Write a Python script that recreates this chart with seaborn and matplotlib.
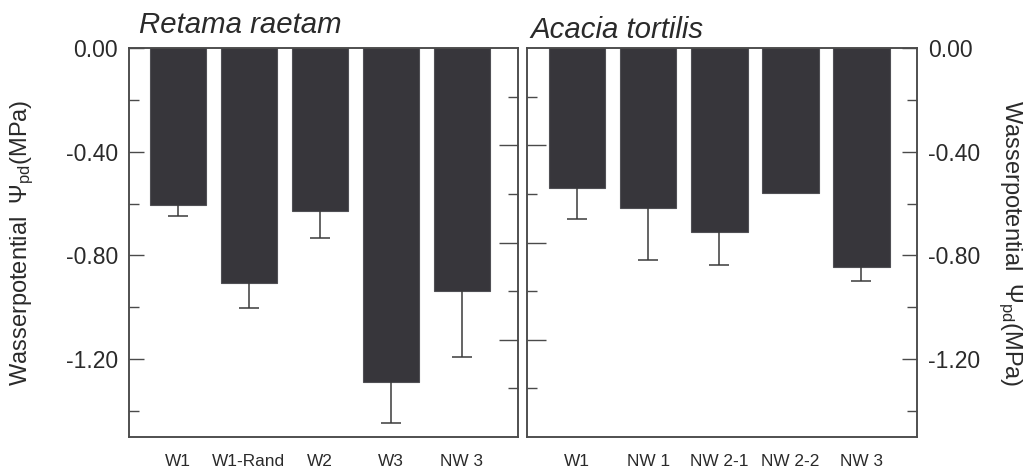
import numpy as np
import pandas as pd
import matplotlib
matplotlib.use("Agg")
import matplotlib.pyplot as plt
from matplotlib.ticker import FixedLocator, NullFormatter
import seaborn as sns

# ---- data ----
retama_cats = ["W1", "W1-Rand", "W2", "W3", "NW 3"]
retama_vals = [-0.604, -0.906, -0.629, -1.286, -0.937]
retama_err = [0.045, 0.097, 0.105, 0.161, 0.254]

acacia_cats = ["W1", "NW 1", "NW 2-1", "NW 2-2", "NW 3"]
acacia_vals = [-0.541, -0.618, -0.710, -0.560, -0.844]
acacia_err = [0.117, 0.199, 0.127, 0.0, 0.055]

titles = ["Retama raetam", "Acacia tortilis"]
ylabel = r"Wasserpotential  $\Psi_{\mathrm{pd}}$(MPa)"
major_ticks = [0.0, -0.4, -0.8, -1.2]
major_labels = ["0.00", "-0.40", "-0.80", "-1.20"]
minor_ticks = [-0.2, -0.6, -1.0, -1.4]
mid_major = [-0.375, -0.75, -1.125]
mid_minor = [-0.1875, -0.5625, -0.9375, -1.3125]

sns.set_theme(style="white")
plt.rcParams["font.family"] = ["Liberation Sans", "DejaVu Sans"]
plt.rcParams["mathtext.fontset"] = "custom"
plt.rcParams["mathtext.rm"] = "Liberation Sans"
plt.rcParams["mathtext.it"] = "Liberation Sans:italic"

BAR = "#37363b"
SPINE = "#4a4a4a"
TXT = "#2a2a2a"

fig = plt.figure(figsize=(10.28, 4.68), dpi=100)
axL = fig.add_axes([129 / 1028, 1 - 437 / 468, 389 / 1028, 389 / 468])
axR = fig.add_axes([527.3 / 1028, 1 - 437 / 468, 390 / 1028, 389 / 468])


def style_spines(ax):
    for s in ax.spines.values():
        s.set_visible(True)
        s.set_color(SPINE)
        s.set_linewidth(1.1)


def draw(ax, cats, vals, errs, xlim):
    df = pd.DataFrame({"cat": cats, "val": vals})
    sns.barplot(data=df, x="cat", y="val", order=cats, color=BAR, saturation=1,
                width=0.8, errorbar=None, edgecolor="#505055", linewidth=0.8, ax=ax)
    x = np.arange(len(cats))
    v = np.array(vals)
    e = np.array(errs)
    m = e > 0
    ax.vlines(x[m], v[m], v[m] - e[m], color="#3a3a3a", lw=1.1, zorder=1)
    ax.hlines(v[m] - e[m], x[m] - 0.14, x[m] + 0.14, color="#3a3a3a", lw=1.1, zorder=1)
    ax.set_ylim(-1.5, 0)
    ax.set_xlim(*xlim)
    ax.set_xlabel("")
    ax.set_ylabel("")
    style_spines(ax)


def style_y(ax):
    ax.set_yticks(major_ticks)
    ax.set_yticklabels(major_labels)
    ax.yaxis.set_minor_locator(FixedLocator(minor_ticks))
    ax.tick_params(axis="x", length=0, pad=12, labelsize=12.4, labelcolor=TXT)
    ax.tick_params(axis="y", which="major", direction="in", length=10.5, width=1,
                   color=SPINE, labelsize=16.5, labelcolor=TXT, pad=8)
    ax.tick_params(axis="y", which="minor", direction="in", length=7, width=1, color=SPINE)


draw(axL, retama_cats, retama_vals, retama_err, (-0.69, 4.79))
draw(axR, acacia_cats, acacia_vals, acacia_err, (-0.70, 4.79))

# twin axes carrying the extra ticks on the inner spines
twL = axL.twinx()
twR = axR.twinx()
for tw, side in [(twL, "right"), (twR, "left")]:
    tw.set_ylim(-1.5, 0)
    style_spines(tw)
    if side == "left":
        tw.yaxis.tick_left()
    else:
        tw.yaxis.tick_right()
    tw.set_yticks(mid_major)
    tw.yaxis.set_minor_locator(FixedLocator(mid_minor))
    tw.yaxis.set_major_formatter(NullFormatter())
    tw.yaxis.set_minor_formatter(NullFormatter())
    tw.tick_params(axis="y", which="major", direction="in", length=13.7, width=1, color=SPINE)
    tw.tick_params(axis="y", which="minor", direction="in", length=7, width=1, color=SPINE)
    tw.grid(False)

# main value axes: left panel on left, right panel on right (after twinx)
axL.yaxis.tick_left()
axR.yaxis.tick_right()
style_y(axL)
style_y(axR)

fig.text(139 / 1028, 1 - 33 / 468, titles[0], fontsize=21.2, style="italic",
         color=TXT, ha="left", va="baseline")
fig.text(530.5 / 1028, 1 - 37.5 / 468, titles[1], fontsize=21.2, style="italic",
         color=TXT, ha="left", va="baseline")

fig.text(22 / 1028, 1 - 243 / 468, ylabel, fontsize=17, rotation=90,
         ha="center", va="center", color=TXT)
fig.text(1010 / 1028, 1 - 243 / 468, ylabel, fontsize=17, rotation=270,
         ha="center", va="center", color=TXT)

fig.savefig("out.png", dpi=100)
